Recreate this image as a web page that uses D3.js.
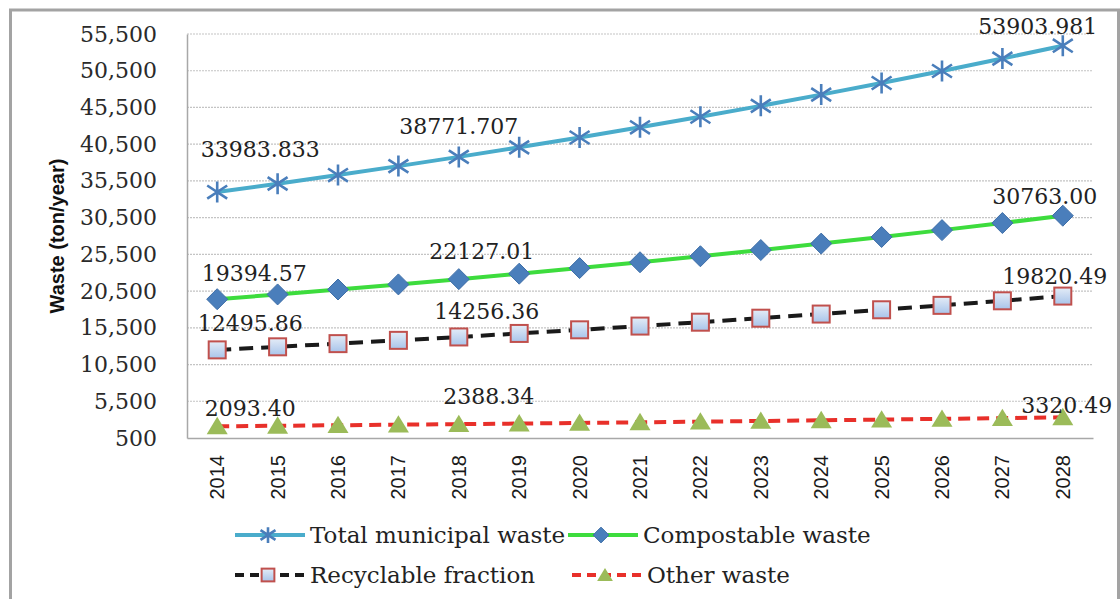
<!DOCTYPE html>
<html>
<head>
<meta charset="utf-8">
<script src="https://cdn.jsdelivr.net/npm/d3@7"></script>
<style>
  html, body { margin: 0; padding: 0; background: #fff; }
  svg { display: block; }
</style>
</head>
<body>
<svg id="chart" width="1120" height="599"></svg>
<script>
// Projected municipal waste generation, 2014-2028 (ton/year)
const years = ["2014","2015","2016","2017","2018","2019","2020","2021","2022","2023","2024","2025","2026","2027","2028"];
const totalWaste = [33983.833, 35122, 36299, 37515, 38771.707, 40071, 41413, 42800, 44234, 45716, 47248, 48831, 50466, 52157, 53903.981];
const compostableWaste = [19394.57, 20044, 20716, 21410, 22127.01, 22868, 23634, 24426, 25244, 26090, 26964, 27868, 28801, 29766, 30763.00];
const recyclableFraction = [12495.86, 12914, 13347, 13794, 14256.36, 14734, 15227, 15737, 16265, 16810, 17373, 17955, 18557, 19178, 19820.49];
const otherWaste = [2093.40, 2163, 2236, 2311, 2388.34, 2468, 2551, 2636, 2725, 2816, 2910, 3008, 3108, 3212, 3320.49];
const yTicks = [500, 5500, 10500, 15500, 20500, 25500, 30500, 35500, 40500, 45500, 50500, 55500];
const seriesNames = ["Total municipal waste", "Compostable waste", "Recyclable fraction", "Other waste"];

const svg = d3.select("#chart");
const plotLeft = 187, plotRight = 1093, plotTop = 34, plotBottom = 438;
const serif = "'DejaVu Serif', serif";
const sans = "'Liberation Sans', Arial, sans-serif";

// outer frame
svg.append("rect")
  .attr("x", 10.5).attr("y", 10).attr("width", 1108).attr("height", 620)
  .attr("fill", "#fff").attr("stroke", "#a3a3a3").attr("stroke-width", 3);

const x = d3.scaleBand().domain(years).range([plotLeft, plotRight]).padding(0);
const y = d3.scaleLinear().domain([500, 55500]).range([plotBottom, plotTop]);
const cx = d => x(d) + x.bandwidth() / 2;

// gradient for square markers
const defs = svg.append("defs");
const grad = defs.append("linearGradient").attr("id", "sqFill")
  .attr("x1", 0).attr("y1", 0).attr("x2", 0).attr("y2", 1);
grad.append("stop").attr("offset", "0%").attr("stop-color", "#e4ecf7");
grad.append("stop").attr("offset", "100%").attr("stop-color", "#a8c4ea");

// horizontal gridlines
svg.append("g")
  .selectAll("line").data(yTicks.slice(1)).join("line")
  .attr("x1", plotLeft).attr("x2", plotRight)
  .attr("y1", d => y(d)).attr("y2", d => y(d))
  .attr("stroke", "#c4c4c4").attr("stroke-width", 1.2)
  .attr("stroke-dasharray", "2,1");

// y axis
const yAxis = svg.append("g").attr("transform", `translate(${plotLeft},0)`)
  .call(d3.axisLeft(y).tickValues(yTicks).tickFormat(d3.format(",")).tickSize(0).tickPadding(30));
yAxis.select(".domain").attr("stroke", "#a8a8a8").attr("stroke-width", 1.5);
yAxis.selectAll("text")
  .attr("font-family", serif).attr("font-size", 22).attr("fill", "#2a2a2a");

// x axis
const xAxis = svg.append("g").attr("transform", `translate(0,${plotBottom})`)
  .call(d3.axisBottom(x).tickSize(0).tickPadding(0));
xAxis.select(".domain").attr("stroke", "#a8a8a8").attr("stroke-width", 1.5);
xAxis.selectAll("text")
  .attr("font-family", sans).attr("font-size", 20).attr("fill", "#1a1a1a")
  .attr("text-anchor", "end")
  .attr("transform", "translate(0,17) rotate(-90)")
  .attr("dx", 0).attr("dy", "0.35em")
  .attr("x", 0).attr("y", 0);

// y axis title
svg.append("text")
  .attr("transform", "translate(64,236) rotate(-90)")
  .attr("text-anchor", "middle")
  .attr("font-family", sans).attr("font-weight", "bold").attr("font-size", 20)
  .attr("fill", "#111")
  .text("Waste (ton/year)");

// marker shapes
function asterisk(g, s) {
  const r = s / 2, dx = r * 0.95, dy = r * 0.62;
  g.append("path")
    .attr("d", `M0,${-r}L0,${r}M${-dx},${-dy}L${dx},${dy}M${-dx},${dy}L${dx},${-dy}`)
    .attr("stroke", "#4a7ebb").attr("stroke-width", 2.6).attr("fill", "none");
}
function diamond(g, s) {
  const r = s / 2;
  g.append("path").attr("d", `M0,${-r}L${r},0L0,${r}L${-r},0Z`)
    .attr("fill", "#4a7ebb").attr("stroke", "#3f6fa8").attr("stroke-width", 1);
}
function square(g, s) {
  const r = s / 2;
  g.append("rect").attr("x", -r).attr("y", -r).attr("width", s).attr("height", s)
    .attr("fill", "url(#sqFill)").attr("stroke", "#c0504d").attr("stroke-width", 2);
}
function triangle(g, s) {
  const r = s / 2;
  g.append("path").attr("d", `M0,${-r * 0.9}L${r},${r * 0.75}L${-r},${r * 0.75}Z`)
    .attr("fill", "#9bbb59");
}

const series = [
  { name: seriesNames[0], values: totalWaste, color: "#4aaccb", dash: null, marker: asterisk, size: 21 },
  { name: seriesNames[1], values: compostableWaste, color: "#3ddc3d", dash: null, marker: diamond, size: 21 },
  { name: seriesNames[2], values: recyclableFraction, color: "#1a1a1a", dash: "14,8", marker: square, size: 17 },
  { name: seriesNames[3], values: otherWaste, color: "#e8302a", dash: "12,7", marker: triangle, size: 21 }
];

const line = d3.line().x(d => cx(d.year)).y(d => y(d.value));

series.forEach(s => {
  const pts = years.map((yr, i) => ({ year: yr, value: s.values[i] }));
  svg.append("path").datum(pts)
    .attr("d", line).attr("fill", "none")
    .attr("stroke", s.color).attr("stroke-width", 4)
    .attr("stroke-dasharray", s.dash);
  const mg = svg.append("g");
  pts.forEach(p => {
    const g = mg.append("g").attr("transform", `translate(${cx(p.year)},${y(p.value)})`);
    s.marker(g, s.size);
  });
});

// value labels: [series index, year index, dx, dy]
const labelSpots = [
  [0, 0, 43, -35], [0, 4, 0, -23], [0, 14, -25, -12],
  [1, 0, 37, -18], [1, 4, 23, -20], [1, 14, -18, -12],
  [2, 0, 33, -19], [2, 4, 28, -18], [2, 14, -8, -12],
  [3, 0, 33, -10], [3, 4, 30, -20], [3, 14, 4, -4]
];
const fmtLabel = [d3.format(".3f"), d3.format(".2f"), d3.format(".2f"), d3.format(".2f")];
svg.append("g").selectAll("text").data(labelSpots).join("text")
  .attr("x", d => cx(years[d[1]]) + d[2])
  .attr("y", d => y(series[d[0]].values[d[1]]) + d[3])
  .attr("text-anchor", "middle")
  .attr("font-family", serif).attr("font-size", 22).attr("fill", "#222")
  .text(d => fmtLabel[d[0]](series[d[0]].values[d[1]]));

// legend
const legendPos = [[235, 535], [568, 535], [235, 575], [572, 575]];
series.forEach((s, i) => {
  const [lx, ly] = legendPos[i];
  const g = svg.append("g").attr("transform", `translate(${lx},${ly})`);
  g.append("line").attr("x1", 0).attr("x2", 70).attr("y1", 0).attr("y2", 0)
    .attr("stroke", s.color).attr("stroke-width", 4)
    .attr("stroke-dasharray", s.dash ? "9,6" : null);
  const mg = g.append("g").attr("transform", "translate(33,0)");
  s.marker(mg, s.size * 0.75);
  g.append("text").attr("x", 75).attr("y", 0).attr("dy", "0.36em")
    .attr("font-family", serif).attr("font-size", 23).attr("fill", "#222")
    .text(s.name);
});
</script>
</body>
</html>
